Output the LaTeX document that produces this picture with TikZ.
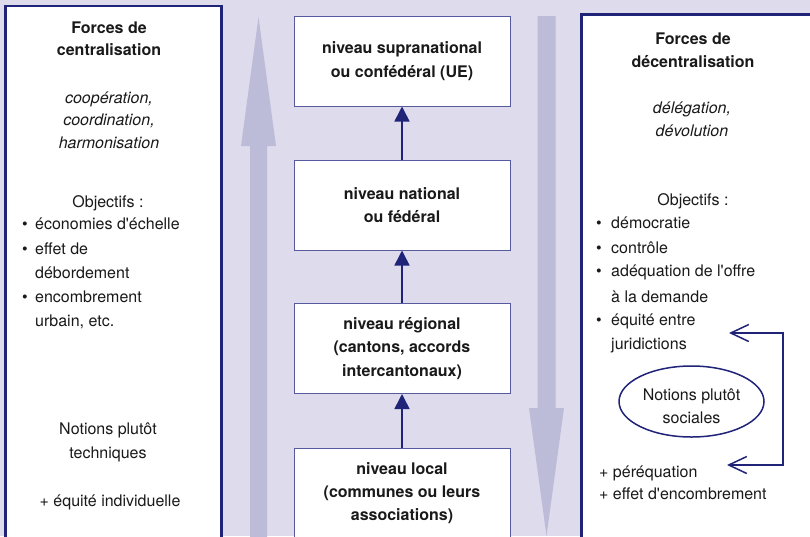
\documentclass[tikz,border=0pt]{standalone}
\usepackage{fontspec}
\setmainfont{TeX Gyre Heros}
\usetikzlibrary{arrows.meta,shapes.geometric}
\definecolor{bgc}{RGB}{221,219,236}
\definecolor{bigc}{RGB}{188,188,217}
\definecolor{navy}{RGB}{32,36,120}
\definecolor{boxc}{RGB}{88,90,160}
\definecolor{txtc}{RGB}{25,25,25}
\tikzset{
  panel/.style={draw=navy, line width=2.6pt, fill=white},
  bigarrow/.style={fill=bigc},
  lvl/.style={draw=boxc, line width=1pt, fill=white, minimum width=216pt, minimum height=90pt,
    align=center, inner sep=0pt, font=\fontsize{16}{23.3}\selectfont\bfseries, text=txtc},
  conn/.style={draw=navy, line width=1.6pt, -{Triangle[length=15pt,width=15pt]}},
  bracket/.style={draw=navy, line width=1.5pt,
    {Straight Barb[length=18pt,width=17pt]}-{Straight Barb[length=18pt,width=17pt]}},
  ctr/.style={anchor=base, inner sep=0pt, text=txtc},
  lft/.style={anchor=base west, inner sep=0pt, text=txtc},
  hd/.style={ctr, font=\fontsize{16}{23.3}\selectfont\bfseries},
  it/.style={ctr, font=\fontsize{16}{23.3}\selectfont\itshape},
  bul/.style={anchor=base west, inner sep=0pt, text=txtc},
  oval/.style={ellipse, draw=navy, line width=1.5pt, fill=white, minimum width=145pt,
    minimum height=71pt, inner sep=0pt, align=center, text=txtc}
}
\begin{document}
\begin{tikzpicture}[x=1pt,y=-1pt,font=\fontsize{16}{23.3}\selectfont]
\useasboundingbox (0,0) rectangle (810,536);
\clip (0,0) rectangle (810,536);
\fill[bgc] (0,0) rectangle (810,536);

% side panels
\draw[panel] (5.5,6) rectangle (221.5,560);
\draw[panel] (581.5,14.7) rectangle (830,560);

% big arrows
\fill[bigarrow] (250,560) -- (250,146) -- (241,146) -- (258.5,17) -- (276,146) -- (267,146) -- (267,560) -- cycle;
\fill[bigarrow] (537.5,16) -- (537.5,408) -- (529,408) -- (546.5,536) -- (564,408) -- (555.5,408) -- (555.5,16) -- cycle;

% levels
\node[lvl] (b1) at (402,61) {niveau supranational\\ou confédéral (UE)};
\node[lvl] (b2) at (402,205) {niveau national\\ou fédéral};
\node[lvl] (b3) at (402,348.5) {niveau régional\\(cantons, accords\\intercantonaux)};
\node[lvl] (b4) at (402,493) {niveau local\\(communes ou leurs\\associations)};
\draw[conn] (b2.north) -- (b1.south);
\draw[conn] (b3.north) -- (b2.south);
\draw[conn] (b4.north) -- (b3.south);

% left panel text
\node[hd] (lh1) at (109,33) {Forces de};
\node[hd] (lh2) at (109,55) {centralisation};
\node[it] (li1) at (109,103) {coopération,};
\node[it] (li2) at (109,125) {coordination,};
\node[it] (li3) at (109,148) {harmonisation};
\node[ctr] (lo) at (108,207) {Objectifs :};
\node[bul] (lb1) at (22,229) {\textbullet};
\node[lft] (lt1) at (35,229) {économies d\textquotesingle échelle};
\node[bul] (lb2) at (22,254) {\textbullet};
\node[lft] (lt2) at (35,254) {effet de};
\node[lft] (lt3) at (35,278) {débordement};
\node[bul] (lb3) at (22,302) {\textbullet};
\node[lft] (lt4) at (35,302) {encombrement};
\node[lft] (lt5) at (35,326) {urbain, etc.};
\node[ctr] (ln1) at (108,434) {Notions plutôt};
\node[ctr] (ln2) at (108,458) {techniques};
\node[ctr] (lq) at (110,506) {+ équité individuelle};

% right panel text
\node[hd] (rh1) at (693,44) {Forces de};
\node[hd] (rh2) at (693,67) {décentralisation};
\node[it] (ri1) at (692,113) {délégation,};
\node[it] (ri2) at (692,136) {dévolution};
\node[ctr] (ro) at (693,205) {Objectifs :};
\node[bul] (rb1) at (596,228) {\textbullet};
\node[lft] (rt1) at (611,228) {démocratie};
\node[bul] (rb2) at (596,253) {\textbullet};
\node[lft] (rt2) at (611,253) {contrôle};
\node[bul] (rb3) at (596,276) {\textbullet};
\node[lft] (rt3) at (611,276) {adéquation de l\textquotesingle offre};
\node[lft] (rt4) at (611,302) {à la demande};
\node[bul] (rb4) at (596,325) {\textbullet};
\node[lft] (rt5) at (611,325) {équité entre};
\node[lft] (rt6) at (611,349) {juridictions};
\node[oval] (ov) at (691.5,401.5) {\rule{0pt}{21pt}Notions plutôt\\sociales};
\node[lft] (rp1) at (599,477) {+ péréquation};
\node[lft] (rp2) at (599,499) {+ effet d\textquotesingle encombrement};

% bracket connector
\coordinate (tk1) at (729,333);
\coordinate (ck1) at (783,333);
\coordinate (ck2) at (783,465);
\coordinate (tk2) at (727,465);
\draw[bracket] (tk1) -- (ck1) -- (ck2) -- (tk2);
\end{tikzpicture}
\end{document}
